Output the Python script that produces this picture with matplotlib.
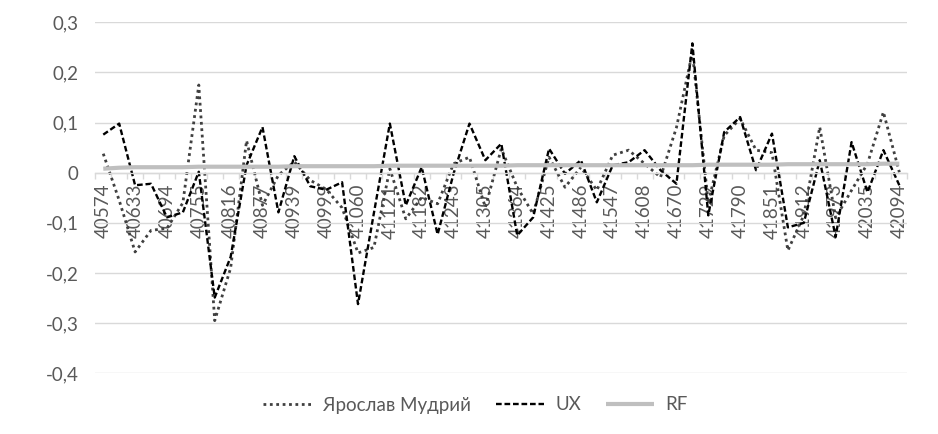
import matplotlib.pyplot as plt
from matplotlib.ticker import FixedLocator

# Дати (серійні номери Excel), щомісячно
dates = [40574, 40602, 40633, 40663, 40694, 40724, 40755, 40786, 40816, 40847,
         40877, 40908, 40939, 40968, 40999, 41029, 41060, 41090, 41121, 41152,
         41182, 41213, 41243, 41274, 41305, 41333, 41364, 41394, 41425, 41455,
         41486, 41517, 41547, 41578, 41608, 41639, 41670, 41698, 41729, 41759,
         41790, 41820, 41851, 41882, 41912, 41943, 41973, 42004, 42035, 42063,
         42094]

yaroslav = [0.038, -0.055, -0.158, -0.115, -0.111, -0.06, 0.175, -0.295, -0.19, 0.064,
            -0.065, -0.005, 0.022, -0.015, -0.033, -0.07, -0.16, -0.149, 0.008, -0.092,
            -0.049, -0.062, 0.018, 0.031, -0.069, 0.048, -0.029, -0.082, 0.031, -0.029,
            0.011, -0.035, 0.035, 0.045, 0.018, -0.009, 0.09, 0.24, -0.06, 0.074,
            0.108, 0.045, 0.04, -0.155, -0.085, 0.091, -0.09, -0.035, 0.018, 0.121,
            0.001]

ux = [0.076, 0.098, -0.025, -0.022, -0.089, -0.079, 0.002, -0.249, -0.168, 0.015,
      0.091, -0.079, 0.033, -0.027, -0.034, -0.019, -0.262, -0.08, 0.098, -0.065,
      0.011, -0.123, -0.002, 0.098, 0.025, 0.058, -0.125, -0.089, 0.048, -0.002,
      0.025, -0.059, 0.015, 0.021, 0.045, 0.005, -0.022, 0.258, -0.085, 0.081,
      0.111, 0.005, 0.078, -0.109, -0.1, 0.025, -0.128, 0.061, -0.039, 0.045,
      -0.025]

rf = [0.008, 0.010, 0.011, 0.011, 0.011, 0.011, 0.012, 0.012, 0.012, 0.012,
      0.012, 0.012, 0.013, 0.013, 0.013, 0.013, 0.013, 0.013, 0.014, 0.014,
      0.014, 0.014, 0.014, 0.014, 0.014, 0.014, 0.015, 0.015, 0.015, 0.015,
      0.015, 0.015, 0.015, 0.015, 0.015, 0.015, 0.015, 0.015, 0.016, 0.016,
      0.016, 0.016, 0.016, 0.017, 0.017, 0.017, 0.017, 0.017, 0.017, 0.018,
      0.018]

y_ticks = [-0.4, -0.3, -0.2, -0.1, 0.0, 0.1, 0.2, 0.3]
y_labels = ['-0,4', '-0,3', '-0,2', '-0,1', '0', '0,1', '0,2', '0,3']

plt.rcParams['font.family'] = ['Lato', 'Open Sans', 'DejaVu Sans']
text_color = '#595959'
grid_color = '#d9d9d9'
fs = 13.5

fig = plt.figure(figsize=(9.38, 4.34), dpi=100)
ax = fig.add_axes([95.3 / 938, 1 - 373.3 / 434, 812 / 938, 351 / 434])

x = list(range(len(dates)))
ax.plot(x, yaroslav, color='#404040', lw=2.0, linestyle=(0, (1, 1.3)),
        dash_capstyle='butt', label='Ярослав Мудрий')
ax.plot(x, ux, color='black', lw=1.7, linestyle=(0, (2.4, 1.2)),
        label='UX')
ax.plot(x, rf, color='#bfbfbf', lw=3, solid_capstyle='butt', label='RF')

ax.set_xlim(-0.5, len(dates) - 0.5)
ax.set_ylim(-0.4, 0.3)

# сітка
ax.set_yticks(y_ticks)
ax.set_yticklabels(y_labels)
ax.yaxis.grid(True, color=grid_color, lw=1)
ax.set_axisbelow(True)

for side in ['top', 'right', 'left']:
    ax.spines[side].set_visible(False)
ax.spines['bottom'].set_position(('data', 0))
ax.spines['bottom'].set_color(grid_color)
ax.spines['bottom'].set_linewidth(1)

ax.set_xticks(x[::2])
ax.set_xticklabels([str(d) for d in dates[::2]], rotation=90)
ax.xaxis.set_minor_locator(FixedLocator([i - 0.5 for i in range(len(dates) + 1)]))
ax.tick_params(axis='x', which='major', length=0, pad=8, labelsize=fs, labelcolor=text_color)
ax.tick_params(axis='x', which='minor', length=4.5, width=1, color=grid_color, direction='out')
ax.tick_params(axis='y', length=0, pad=12, labelsize=fs, labelcolor=text_color)

leg = fig.legend(loc='center', bbox_to_anchor=(0.507, 1 - 405 / 434), ncol=3,
                 frameon=False, fontsize=fs, handlelength=2.6, handletextpad=0.6,
                 columnspacing=1.3)
for t in leg.get_texts():
    t.set_color(text_color)

fig.savefig('out.png', dpi=100)
